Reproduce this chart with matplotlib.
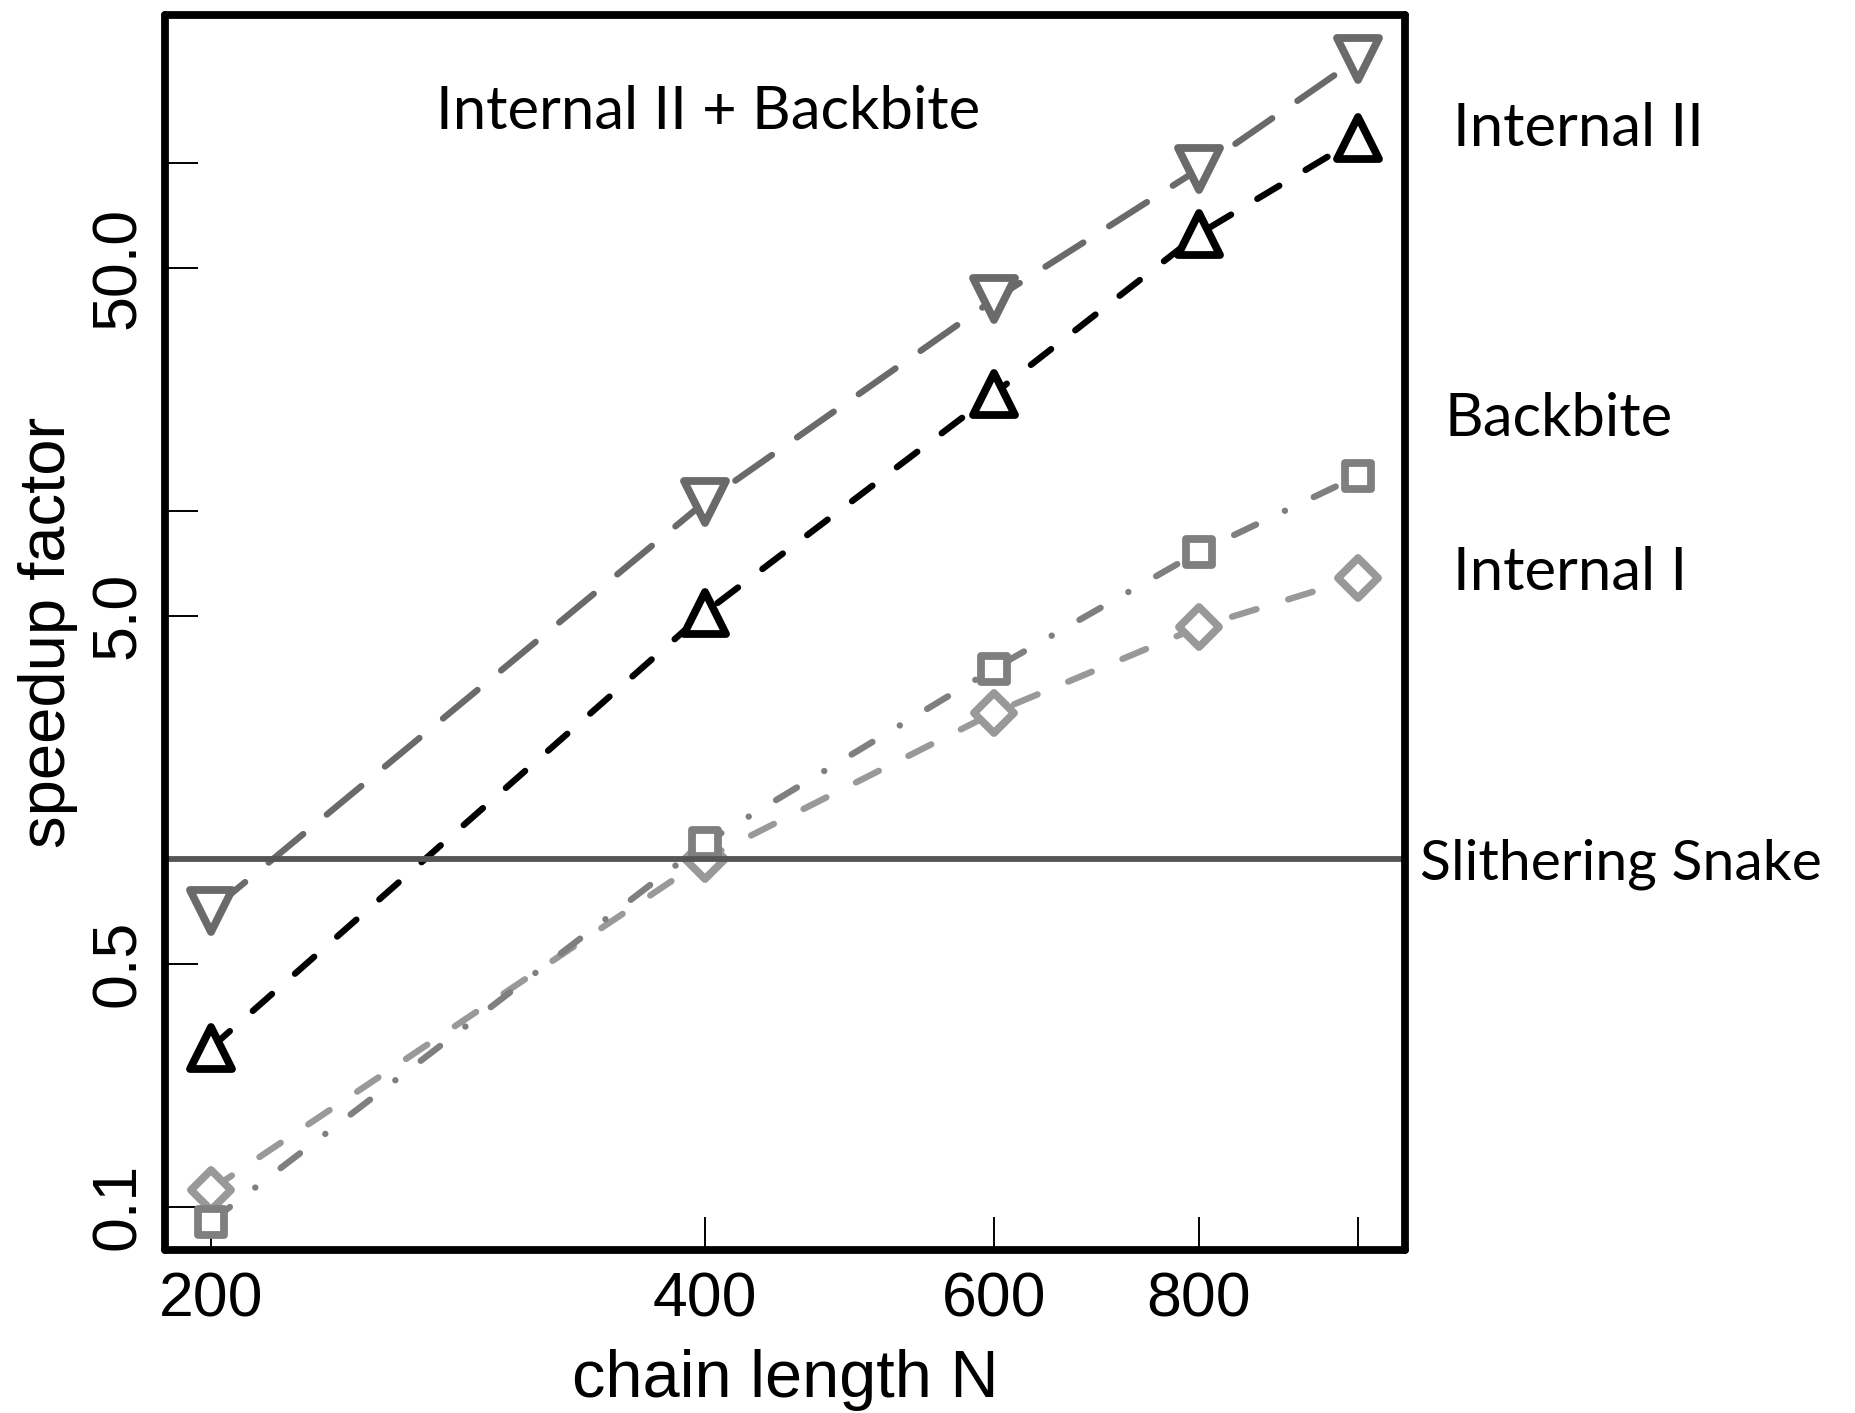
import matplotlib
matplotlib.use("Agg")
import matplotlib.pyplot as plt
from matplotlib.markers import MarkerStyle

# chain lengths and speedup factors
chain_N = [200, 400, 600, 800, 1000]
internal2 = [0.71, 10.6, 40.5, 96, 199]
internal2_backbite = [0.286, 5.1, 21.7, 62.5, 117.5]
backbite = [0.0906, 1.11, 3.52, 7.63, 12.6]
internal1 = [0.112, 1.0, 2.63, 4.64, 6.42]
snake_level = 1.0

yticks = [0.1, 0.5, 5, 10, 50, 100]
yticklabels = ['0.1', '0.5', '5.0', '', '50.0', '']
xticks = [200, 400, 600, 800, 1000]
xticklabels = ['200', '400', '600', '800', '']

plt.rcParams['font.family'] = ['Liberation Sans', 'DejaVu Sans']
label_font = ['Lato', 'DejaVu Sans']

fig = plt.figure(figsize=(18.56, 14.13), dpi=100)
ax = fig.add_axes([0.0889, 0.1154, 0.757 - 0.0889, 0.9894 - 0.1154])
ax.set_xscale('log')
ax.set_yscale('log')

lw = 4.6
mew = 5.6

def mk(m):
    return MarkerStyle(m, joinstyle='round')

ax.plot(chain_N, internal1, color='#999999', lw=lw, dashes=(4.0, 5.2),
        dash_capstyle='round', marker=mk('D'), ms=20, mew=mew, mfc='white', mec='#999999')
ax.plot(chain_N, backbite, color='#7f7f7f', lw=lw, dashes=(3.8, 5.0, 0.01, 5.0),
        dash_capstyle='round', marker=mk('s'), ms=19, mew=mew, mfc='white', mec='#7f7f7f')
ax.plot(chain_N, internal2, color='#6a6a6a', lw=lw, dashes=(7.0, 4.8),
        dash_capstyle='round', marker=mk('v'), ms=30, mew=mew, mfc='white', mec='#6a6a6a')
ax.plot(chain_N, internal2_backbite, color='black', lw=lw, dashes=(4.0, 4.8),
        dash_capstyle='round', marker=mk('^'), ms=30, mew=mew, mfc='white', mec='black')
ax.axhline(snake_level, color='#555555', lw=4.2)

ax.set_xlim(187.6, 1068)
ax.set_ylim(0.0752, 266)

ax.set_yticks(yticks)
ax.set_yticklabels(yticklabels, rotation=90, va='center')
ax.set_xticks(xticks)
ax.set_xticklabels(xticklabels)
ax.minorticks_off()
ax.tick_params(direction='in', length=24, width=1.4, labelsize=45, top=False, right=False)
ax.tick_params(axis='y', pad=12)
ax.tick_params(axis='x', pad=15)

for sp in ax.spines.values():
    sp.set_linewidth(5.6)
    sp.set_capstyle('round')

ax.set_xlabel('chain length N', fontsize=48, labelpad=14)
ax.set_ylabel('speedup factor', fontsize=47, labelpad=8)

tr = ax.get_yaxis_transform()
ax.text(0.438, 145, 'Internal II + Backbite', family=label_font, fontsize=43,
        ha='center', va='center_baseline', transform=tr)
ax.text(1.039, 129.4, 'Internal II', family=label_font, fontsize=43,
        ha='left', va='center_baseline', transform=tr, clip_on=False)
ax.text(1.032, 19.0, 'Backbite', family=label_font, fontsize=43,
        ha='left', va='center_baseline', transform=tr, clip_on=False)
ax.text(1.039, 6.86, 'Internal I', family=label_font, fontsize=43,
        ha='left', va='center_baseline', transform=tr, clip_on=False)
ax.text(1.012, 1.0, 'Slithering Snake', family=label_font, fontsize=41,
        ha='left', va='center_baseline', transform=tr, clip_on=False)

fig.savefig('out.png', dpi=100)
